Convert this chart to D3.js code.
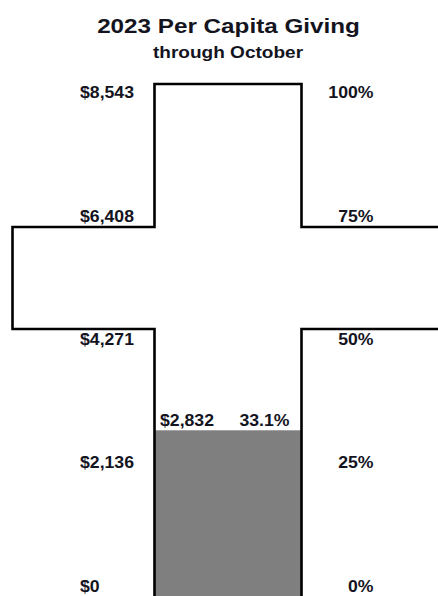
<!DOCTYPE html>
<html>
<head>
<meta charset="utf-8">
<script src="https://cdn.jsdelivr.net/npm/d3@7"></script>
<style>
  html, body { margin: 0; padding: 0; background: #fff; }
  svg { display: block; }
  text { font-family: "Liberation Sans", Arial, sans-serif; font-weight: bold; fill: #14141e; }
</style>
</head>
<body>
<svg id="chart" width="438" height="596"></svg>
<script>
// ---- data ----
const title = "2023 Per Capita Giving";
const subtitle = "through October";
const goal = 8543;
const actual = 2832;
const actualPct = 33.1;
const dollarTicks = [0, 2136, 4271, 6408, 8543];
const pctTicks = [0, 25, 50, 75, 100];

// ---- layout ----
const W = 438, H = 596;
const svg = d3.select("#chart");

// scale for the thermometer fill (value -> y)
const yFill = d3.scaleLinear().domain([0, goal]).range([602, 84]);
// scales for the tick label baselines
const yLab = d3.scaleLinear().domain([0, goal]).range([591.5, 98.3]);
const yPct = d3.scaleLinear().domain([0, 100]).range([591.5, 98.3]);

// cross geometry (pixels)
const xL = 154.5, xR = 301.5, armL = 12.5, armR = 446;
const armTop = 227, armBot = 329, crossBottom = H + 6;
const crossTop = yFill(goal);

// fill
svg.append("rect")
  .attr("x", xL)
  .attr("y", yFill(actual))
  .attr("width", xR - xL)
  .attr("height", crossBottom - yFill(actual))
  .attr("fill", "#7f7f7f");

// cross outline
const p = d3.path();
p.moveTo(xL, crossBottom);
p.lineTo(xL, armBot);
p.lineTo(armL, armBot);
p.lineTo(armL, armTop);
p.lineTo(xL, armTop);
p.lineTo(xL, crossTop);
p.lineTo(xR, crossTop);
p.lineTo(xR, armTop);
p.lineTo(armR, armTop);
p.moveTo(armR, armBot);
p.lineTo(xR, armBot);
p.lineTo(xR, crossBottom);
svg.append("path")
  .attr("d", p.toString())
  .attr("fill", "none")
  .attr("stroke", "#000")
  .attr("stroke-width", 2.6)
  .attr("stroke-linejoin", "miter");

function stext(x, y, str, size, sx, anchor) {
  return svg.append("text")
    .attr("transform", `translate(${x},${y}) scale(${sx},1)`)
    .attr("text-anchor", anchor)
    .style("font-size", size + "px")
    .text(str);
}

// titles
stext(228.5, 33.3, title, 21, 1.155, "middle");
stext(228, 57.5, subtitle, 17, 1.12, "middle");

// dollar tick labels
const fmt = d3.format(",");
const lblSize = 16.3, lblSx = 1.084;
svg.append("g").selectAll("text")
  .data(dollarTicks)
  .join("text")
  .attr("transform", d => `translate(80,${yLab(d)}) scale(${lblSx},1)`)
  .attr("text-anchor", "start")
  .style("font-size", lblSize + "px")
  .text(d => "$" + fmt(d));

// percent tick labels
svg.append("g").selectAll("text")
  .data(pctTicks)
  .join("text")
  .attr("transform", d => `translate(373.5,${yPct(d)}) scale(${lblSx},1)`)
  .attr("text-anchor", "end")
  .style("font-size", lblSize + "px")
  .text(d => d + "%");

// value labels above fill
const vy = yFill(actual) - 4.5;
stext(160, vy, "$" + fmt(actual), lblSize, lblSx, "start");
stext(289.5, vy, actualPct.toFixed(1) + "%", lblSize, lblSx, "end");
</script>
</body>
</html>
